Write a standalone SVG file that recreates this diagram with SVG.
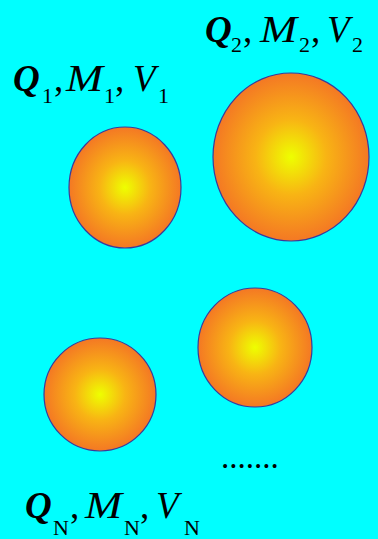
<svg xmlns="http://www.w3.org/2000/svg" width="378" height="539" viewBox="0 0 378 539">
<defs>
<radialGradient id="ball" cx="0.5" cy="0.5" r="0.5">
<stop offset="0" stop-color="#EEFF00"/>
<stop offset="0.45" stop-color="#F8B414"/>
<stop offset="1" stop-color="#F47824"/>
</radialGradient>
</defs>
<style>
.ball{fill:url(#ball);stroke:#3A3A9A;stroke-width:1.2}
.t{font-family:"Liberation Serif","Times New Roman",serif;font-size:37px;fill:#000}
.q{font-style:italic;font-weight:bold}
.i{font-style:italic}
.s{font-size:22px}
</style>
<rect width="378" height="539" fill="#00FFFF"/>
<g id="particle1">
<ellipse class="ball" cx="125" cy="187.5" rx="56" ry="60.5"/>
<text class="t"><tspan class="q" x="13" y="91">Q</tspan><tspan class="s" x="42" y="103">1</tspan><tspan x="54" y="91">,</tspan></text>
<text class="t i" x="66" y="91" textLength="37" lengthAdjust="spacingAndGlyphs">M</text>
<text class="t"><tspan class="s" x="104" y="103">1</tspan><tspan x="115" y="91">,</tspan><tspan class="i" x="133" y="91">V</tspan><tspan class="s" x="158" y="103">1</tspan></text>
</g>
<g id="particle2">
<ellipse class="ball" cx="291" cy="157" rx="78" ry="84"/>
<text class="t"><tspan class="q" x="205" y="42">Q</tspan><tspan class="s" x="231" y="52">2</tspan><tspan x="243" y="42">,</tspan></text>
<text class="t i" x="260" y="42" textLength="37" lengthAdjust="spacingAndGlyphs">M</text>
<text class="t"><tspan class="s" x="299" y="52">2</tspan><tspan x="311" y="42">,</tspan><tspan class="i" x="327" y="42">V</tspan><tspan class="s" x="352" y="52">2</tspan></text>
</g>
<g id="particle3">
<ellipse class="ball" cx="255" cy="347.5" rx="57" ry="59.5"/>
</g>
<g id="particleN">
<ellipse class="ball" cx="100" cy="394.5" rx="56" ry="56.5"/>
<text class="t"><tspan class="q" x="25" y="518">Q</tspan><tspan class="s" x="53" y="535">N</tspan><tspan x="70" y="518">,</tspan></text>
<text class="t i" x="85" y="518" textLength="37" lengthAdjust="spacingAndGlyphs">M</text>
<text class="t"><tspan class="s" x="124" y="535">N</tspan><tspan x="140" y="518">,</tspan><tspan class="i" x="156" y="518">V</tspan><tspan class="s" x="184" y="535">N</tspan></text>
</g>
<g id="ellipsis">
<text class="t" x="221" y="468" style="font-size:33px">.......</text>
</g>
</svg>
